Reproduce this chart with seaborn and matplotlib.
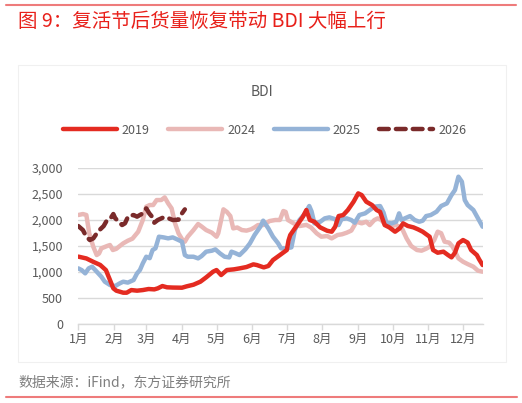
import numpy as np
import pandas as pd
import matplotlib
matplotlib.use("Agg")
import matplotlib.pyplot as plt
import seaborn as sns
from matplotlib.lines import Line2D
from matplotlib.patches import Rectangle

sns.set_theme(style="white")
plt.rcParams['font.family'] = ['Noto Sans CJK SC', 'DejaVu Sans']

# ---------------- data (day of year, BDI) ----------------
days_2019 = [0, 7, 13, 19, 24, 27.5, 30.4, 33, 39, 42, 46, 51, 56, 61, 66, 69, 73, 77, 82, 90, 94, 100,
             106, 111, 117, 120, 124, 129, 135, 140, 146, 152, 155, 161, 165, 169, 175, 181, 182.5, 184,
             187, 191, 195, 198, 201, 205, 210, 216, 220, 223, 226, 230, 234, 239, 243, 246, 250, 255,
             259, 262, 266, 270, 275, 279, 282, 286, 291, 295, 299, 305, 308, 312, 317, 321, 324, 327,
             330, 334, 338, 341, 346, 348, 351]
bdi_2019 = [1290, 1255, 1190, 1130, 1030, 840, 680, 635, 596, 596, 647, 635, 647, 667, 660, 680, 724, 700,
            695, 692, 718, 750, 808, 891, 1000, 1032, 936, 1032, 1045, 1064, 1090, 1141, 1128, 1083, 1110,
            1224, 1320, 1417, 1600, 1705, 1801, 1929, 2058, 2186, 1994, 1960, 1852, 1788, 1769, 1865, 2070,
            2090, 2186, 2346, 2506, 2474, 2346, 2282, 2186, 2150, 1897, 1852, 1769, 1833, 1929, 1880, 1852,
            1814, 1769, 1673, 1417, 1365, 1385, 1320, 1276, 1365, 1545, 1609, 1560, 1417, 1320, 1237, 1128]

days_2024 = [0, 4, 7, 9.5, 13, 16, 18, 20, 25, 27.5, 30, 33, 36, 39, 43, 47, 52, 56, 59, 62, 65, 68, 72,
             75, 78, 81, 84, 87, 90, 92.5, 95, 100, 104, 107, 111, 116, 120, 121.5, 124, 126, 129, 132,
             134.5, 138, 142, 146, 150, 153, 156, 160.5, 166, 171, 175, 178, 180, 182, 187, 192, 198, 202,
             207, 211, 216, 220, 225, 229, 233, 237, 241.5, 246, 250, 253, 257, 260, 263, 267, 272, 276,
             281, 285, 289, 294, 298, 302, 305, 309, 312, 315, 318, 322, 325, 330, 334, 338, 343, 347, 351]
bdi_2024 = [2090, 2109, 2090, 1737, 1481, 1320, 1350, 1449, 1494, 1513, 1417, 1440, 1494, 1545, 1596, 1635,
            1769, 1994, 2250, 2282, 2282, 2378, 2378, 2429, 2314, 2218, 1929, 1737, 1628, 1577, 1673, 1801,
            1917, 1870, 1801, 1750, 1673, 1740, 1994, 2199, 2150, 2070, 1833, 1850, 1801, 1790, 1815, 1852,
            1897, 1897, 1974, 1994, 1994, 2167, 2150, 1994, 1929, 1878, 1900, 1852, 1737, 1673, 1686, 1641,
            1705, 1720, 1750, 1790, 1961, 1930, 1961, 1897, 1994, 2026, 1994, 1897, 1878, 1897, 1833, 1641,
            1494, 1417, 1404, 1442, 1481, 1609, 1769, 1740, 1577, 1558, 1481, 1256, 1192, 1147, 1096, 1019,
            1000]

days_2025 = [0, 3, 6, 9, 12, 16, 20, 23, 27.5, 32, 36, 39, 43, 48, 51, 53.5, 56, 59, 62, 64.5, 67, 70,
             74, 78, 82, 87, 90, 92.5, 95, 100, 104, 107, 111, 116, 119, 123, 127, 131, 133, 136, 140, 145,
             149, 153, 158, 160.5, 165, 169, 173.5, 176, 181, 185, 188, 192, 197, 200.5, 202.5, 205, 210,
             214, 218, 223, 226, 228.5, 233, 237, 240, 244, 249, 253, 257, 262, 265, 267.5, 272, 276, 278.5,
             280.6, 283.5, 288, 292, 296, 299, 302, 306, 311, 315, 320, 324, 327, 330, 333, 335.5, 338, 343,
             347, 351]
bdi_2025 = [1064, 1030, 968, 1064, 1096, 1000, 904, 808, 744, 724, 776, 808, 790, 840, 968, 1032, 1160,
            1288, 1260, 1417, 1450, 1673, 1660, 1641, 1660, 1609, 1577, 1320, 1288, 1288, 1256, 1300, 1385,
            1404, 1429, 1352, 1288, 1275, 1385, 1360, 1320, 1429, 1545, 1705, 1865, 1981, 1833, 1673, 1545,
            1449, 1449, 1468, 1801, 1994, 2122, 2263, 2160, 1929, 1960, 2026, 2045, 2010, 1897, 2010, 2026,
            1994, 1942, 2090, 2122, 2186, 2250, 2263, 2135, 1942, 1929, 1961, 2122, 1994, 2026, 2070, 1994,
            1961, 1981, 2070, 2090, 2154, 2263, 2314, 2474, 2570, 2827, 2731, 2378, 2282, 2186, 2026, 1865]

days_2026 = [0, 4, 7, 10, 13, 16, 19, 22, 25, 28, 30.4, 32, 35, 38, 40.5, 43.4, 48, 51, 55, 59, 61.6, 64,
             66, 69, 74, 78, 82, 87, 89.6, 92.5]
bdi_2026 = [1878, 1801, 1673, 1609, 1640, 1737, 1814, 1878, 1994, 2026, 2109, 2030, 1961, 1897, 1930, 2070,
            2090, 2058, 2109, 2218, 2122, 2058, 1942, 1994, 2045, 2030, 1994, 2000, 2109, 2199]

month_starts = [0, 31, 59, 90, 120, 151, 181, 212, 243, 273, 304, 334]
month_labels = ["1月", "2月", "3月", "4月", "5月", "6月", "7月", "8月", "9月", "10月", "11月", "12月"]
y_ticks = [0, 500, 1000, 1500, 2000, 2500, 3000]

df = pd.concat([
    pd.DataFrame({"day": days_2019, "bdi": bdi_2019, "year": "2019"}),
    pd.DataFrame({"day": days_2024, "bdi": bdi_2024, "year": "2024"}),
    pd.DataFrame({"day": days_2025, "bdi": bdi_2025, "year": "2025"}),
    pd.DataFrame({"day": days_2026, "bdi": bdi_2026, "year": "2026"}),
])

colors = {"2019": "#E42B21", "2024": "#E9B8B6", "2025": "#95B3D7", "2026": "#7A2A2A"}
order = ["2024", "2025", "2019", "2026"]
DASH = (0, (2.2, 1.6))

W, H = 522, 403
fig = plt.figure(figsize=(W / 100, H / 100), dpi=100)
ax = fig.add_axes([78.3 / W, 1 - 323.7 / H, (483.3 - 78.3) / W, (323.7 - 167.7) / H])

for yr in order:
    sub = df[df["year"] == yr]
    ls = DASH if yr == "2026" else "-"
    sns.lineplot(data=sub, x="day", y="bdi", ax=ax, color=colors[yr], lw=3.2,
                 linestyle=ls, estimator=None, sort=False, legend=False,
                 solid_capstyle="round", dash_capstyle="round", zorder=3)

ax.set_xlim(0, 351.6)
ax.set_ylim(0, 3000)
ax.set_yticks(y_ticks)
ax.set_yticklabels([f"{v:,}" for v in y_ticks])
ax.set_xticks(month_starts)
ax.set_xticklabels(month_labels)
ax.set_xlabel("")
ax.set_ylabel("")
ax.grid(axis="y", color="#D9D9D9", lw=1)
ax.set_axisbelow(True)
for s in ["top", "right", "left"]:
    ax.spines[s].set_visible(False)
ax.spines["bottom"].set_color("#D9D9D9")
ax.spines["bottom"].set_linewidth(1)
ax.tick_params(axis="x", which="both", bottom=True, length=4, width=1, color="#D9D9D9",
               labelsize=9, labelcolor="#595959", pad=3)
ax.tick_params(axis="y", left=False, labelsize=9, labelcolor="#595959", pad=5)

# legend
handles = [Line2D([0], [0], color=colors[y], lw=3.2, solid_capstyle="round",
                  dash_capstyle="round", linestyle=(DASH if y == "2026" else "-"))
           for y in ["2019", "2024", "2025", "2026"]]
leg = fig.legend(handles, ["2019", "2024", "2025", "2026"], loc="center",
                 bbox_to_anchor=(264.5 / W, 1 - 130 / H), ncol=4, frameon=False,
                 fontsize=9, handlelength=4.3, handletextpad=0.4, columnspacing=1.5)
for t in leg.get_texts():
    t.set_color("#595959")

fig.text(262 / W, 1 - 92 / H, "BDI", ha="center", va="center", fontsize=10, color="#595959")

# frame and title
fig.text(18 / W, 1 - 21 / H, "图 9：复活节后货量恢复带动 BDI 大幅上行", ha="left", va="center",
         fontsize=14, color="#E8201A")
fig.add_artist(Line2D([6 / W, 516 / W], [1 - 5 / H, 1 - 5 / H], color="#EE7B7B", lw=1.5))
fig.add_artist(Line2D([6 / W, 517 / W], [1 - 397 / H, 1 - 397 / H], color="#EE7B7B", lw=1.5))
fig.add_artist(Rectangle((17.5 / W, 1 - 362 / H), (506 - 17.5) / W, (362 - 65) / H,
                         transform=fig.transFigure, fill=False, edgecolor="#F0F0F0", lw=0.8))
fig.text(18 / W, 1 - 382 / H, "数据来源：iFind，东方证券研究所", ha="left", va="center",
         fontsize=10, color="#7F7F7F")

fig.savefig("out.png", dpi=100)
